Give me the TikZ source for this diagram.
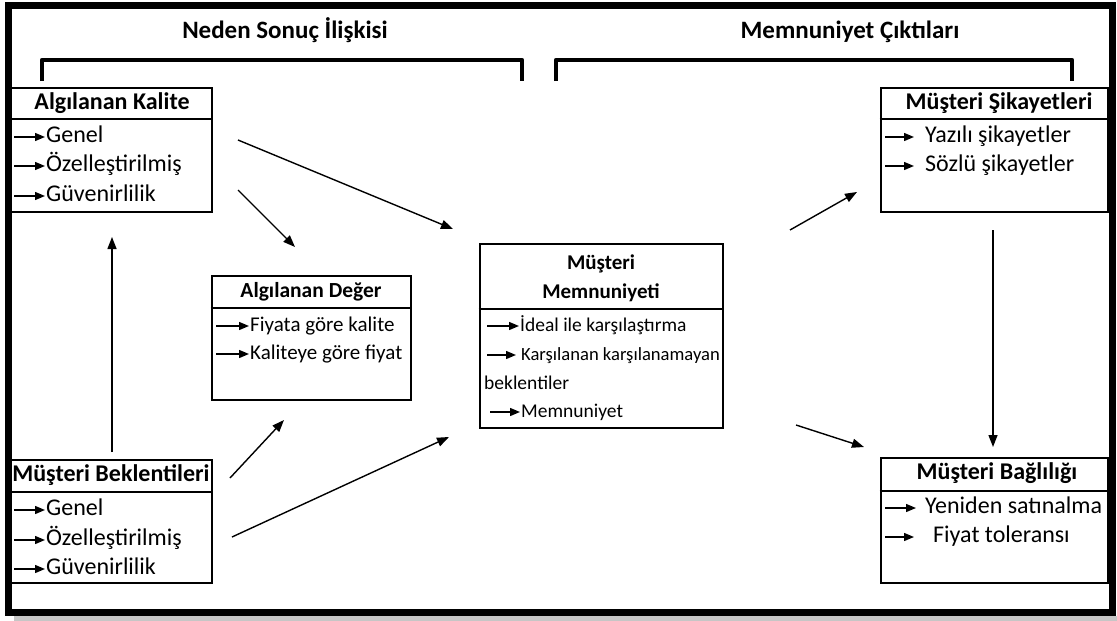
\documentclass[tikz,border=0pt]{standalone}
\usepackage{fontspec}
\setmainfont{Carlito}
\usetikzlibrary{arrows.meta}
\begin{document}
\begin{tikzpicture}[x=1pt,y=-1pt,
  box/.style={draw,line width=2.6pt,inner sep=0pt},
  ttl/.style={font=\fontsize{24}{28}\selectfont\bfseries,inner sep=0pt,text height=16pt,text depth=5pt},
  hd/.style={font=\fontsize{25}{29}\selectfont\bfseries,inner sep=0pt,text height=17pt,text depth=5pt},
  itm/.style={font=\fontsize{24}{28}\selectfont,inner sep=0pt,anchor=west,text height=16pt,text depth=5pt},
  adttl/.style={ttl,font=\fontsize{21.5}{25}\selectfont\bfseries},
  aditm/.style={itm,font=\fontsize{21}{25}\selectfont},
  mmttl/.style={ttl,font=\fontsize{21}{25}\selectfont\bfseries},
  mmitm/.style={itm,font=\fontsize{19.5}{23}\selectfont},
  conn/.style={line width=1.4pt,-{Triangle[length=12pt,width=9pt]}},
  ia/.style={line width=1.4pt,-{Triangle[length=10pt,width=8pt]}},
  hdr/.style={line width=2pt},
  brk/.style={line width=4.5pt,line join=round}]
\useasboundingbox (0,0) rectangle (1117,621);
\fill[white] (0,0) rectangle (1117,621);
% shadow and frame
\draw[line width=5pt,gray!45] (14,618) -- (1117,618);
\draw[line width=7pt] (8,5) rectangle (1112,612);

% section headings and brackets
\node[hd] (h1) at (285,32) {Neden Sonuç İlişkisi};
\node[hd] (h2) at (850,32) {Memnuniyet Çıktıları};
\draw[brk] (42,81) -- (42,60) -- (522,60) -- (522,81);
\draw[brk] (556,81) -- (556,60) -- (1072,60) -- (1072,81);

% Algılanan Kalite
\node[box,minimum width=202pt,minimum height=124pt] (ak) at (111,150) {};
\draw[hdr] (ak.west |- 0,119) -- (ak.east |- 0,119);
\node[ttl] (akt) at (112,104) {Algılanan Kalite};
\node[itm] (ak1) at (46,137) {Genel};
\node[itm] (ak2) at (46,166) {Özelleştirilmiş};
\node[itm] (ak3) at (46,196) {Güvenirlilik};
\foreach \n in {ak1,ak2,ak3} \draw[ia] ([xshift=-32pt]\n.west) -- ([xshift=-1pt]\n.west);

% Müşteri Beklentileri
\node[box,minimum width=202pt,minimum height=123pt] (be) at (111,521.5) {};
\draw[hdr] (be.west |- 0,492) -- (be.east |- 0,492);
\node[ttl] (bet) at (111,476) {Müşteri Beklentileri};
\node[itm] (be1) at (46,510) {Genel};
\node[itm] (be2) at (46,540) {Özelleştirilmiş};
\node[itm] (be3) at (46,569) {Güvenirlilik};
\foreach \n in {be1,be2,be3} \draw[ia] ([xshift=-32pt]\n.west) -- ([xshift=-1pt]\n.west);

% Algılanan Değer
\node[box,minimum width=199pt,minimum height=124pt] (ad) at (311.5,338) {};
\draw[hdr] (ad.west |- 0,308) -- (ad.east |- 0,308);
\node[adttl] (adt) at (311,292) {Algılanan Değer};
\node[aditm] (ad1) at (250,326) {Fiyata göre kalite};
\node[aditm] (ad2) at (250,354) {Kaliteye göre fiyat};
\foreach \n in {ad1,ad2} \draw[ia] ([xshift=-34pt]\n.west) -- ([xshift=-1pt]\n.west);

% Müşteri Memnuniyeti
\node[box,minimum width=243pt,minimum height=184pt] (mm) at (601.5,336) {};
\draw[hdr] (mm.west |- 0,309) -- (mm.east |- 0,309);
\node[mmttl] (mmt1) at (601,264) {Müşteri};
\node[mmttl] (mmt2) at (601,293) {Memnuniyeti};
\node[mmitm] (mm1) at (520,326) {İdeal ile karşılaştırma};
\node[mmitm,font=\fontsize{18.6}{22}\selectfont] (mm2) at (521,355) {Karşılanan karşılanamayan};
\node[mmitm] (mm3) at (484,384) {beklentiler};
\node[mmitm] (mm4) at (521,412) {Memnuniyet};
\draw[ia] ([xshift=-33pt]mm1.west) -- ([xshift=-1pt]mm1.west);
\draw[ia] ([xshift=-34pt]mm2.west) -- ([xshift=-5pt]mm2.west);
\draw[ia] ([xshift=-31pt]mm4.west) -- ([xshift=-1pt]mm4.west);

% Müşteri Şikayetleri
\node[box,minimum width=227pt,minimum height=124pt] (ms) at (994.5,150) {};
\draw[hdr] (ms.west |- 0,119) -- (ms.east |- 0,119);
\node[ttl] (mst) at (999,104) {Müşteri Şikayetleri};
\node[itm] (ms1) at (925,137) {Yazılı şikayetler};
\node[itm] (ms2) at (925,166) {Sözlü şikayetler};
\foreach \n in {ms1,ms2} \draw[ia] ([xshift=-40pt]\n.west) -- ([xshift=-11pt]\n.west);

% Müşteri Bağlılığı
\node[box,minimum width=227pt,minimum height=125pt] (mb) at (994.5,520.5) {};
\draw[hdr] (mb.west |- 0,491) -- (mb.east |- 0,491);
\node[ttl] (mbt) at (997,474) {Müşteri Bağlılığı};
\node[itm] (mb1) at (925,508) {Yeniden satınalma};
\node[itm] (mb2) at (933,537) {Fiyat toleransı};
\draw[ia] ([xshift=-40pt]mb1.west) -- ([xshift=-9pt]mb1.west);
\draw[ia] ([xshift=-48pt]mb2.west) -- ([xshift=-19pt]mb2.west);

% connector endpoints
\coordinate (c1s) at (238,140); \coordinate (c1e) at (453,229);
\coordinate (c2s) at (238,190); \coordinate (c2e) at (295,247);
\coordinate (c3s) at (112,452); \coordinate (c3e) at (112,237);
\coordinate (c4s) at (230,478); \coordinate (c4e) at (284,420);
\coordinate (c5s) at (232,537); \coordinate (c5e) at (449,437);
\coordinate (c6s) at (790,230); \coordinate (c6e) at (857,192);
\coordinate (c7s) at (796,425); \coordinate (c7e) at (864,447);
\coordinate (c8s) at (993,230); \coordinate (c8e) at (993,447);
\foreach \i in {1,...,8} \draw[conn] (c\i s) -- (c\i e);
\end{tikzpicture}
\end{document}
